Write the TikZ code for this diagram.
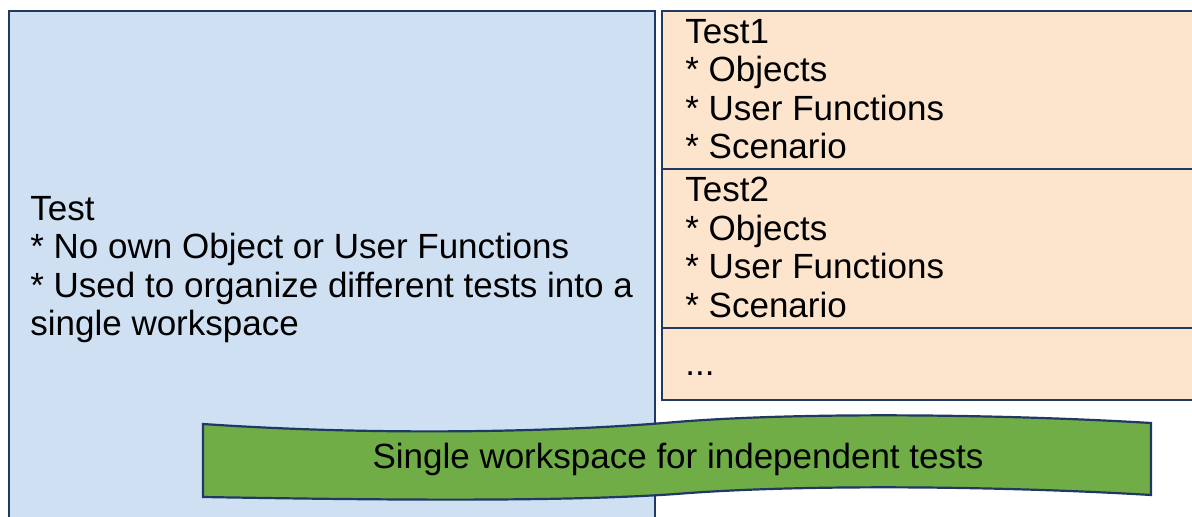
\documentclass[tikz,border=0pt]{standalone}
\usepackage{fontspec}
\setmainfont{Liberation Sans}
\definecolor{navy}{RGB}{31,56,100}
\definecolor{paleblue}{RGB}{207,224,243}
\definecolor{peach}{RGB}{252,228,205}
\definecolor{leafgreen}{RGB}{112,173,71}

\begin{document}
\begin{tikzpicture}[x=.5pt,y=-.5pt,
  frame/.style={draw=navy,line width=1.1pt},
  txt/.style={anchor=north west,inner sep=0pt,align=left,font=\fontsize{17.5}{19.25}\selectfont}]
  \useasboundingbox (0,0) rectangle (1192,517);
  \clip (0,0) rectangle (1192,517);
  \draw[frame,fill=paleblue] (9,11) rectangle (655,540);
  \draw[frame,fill=peach] (662,11) rectangle (1210,169);
  \draw[frame,fill=peach] (662,169) rectangle (1210,328);
  \draw[frame,fill=peach] (662,328) rectangle (1210,400);
  \node[txt] (test) at (30,196) {Test\\* No own Object or User Functions\\* Used to organize different tests into a\\single workspace};
  \node[txt] (test1) at (685,19) {Test1\\* Objects\\* User Functions\\* Scenario};
  \node[txt] (test2) at (685,177) {Test2\\* Objects\\* User Functions\\* Scenario};
  \node[txt,anchor=base west] (more) at (685,376) {...};
  \draw[frame,fill=leafgreen] (203,424) .. controls (380,436) and (560,432) .. (676,422)
    .. controls (800,412) and (1000,414) .. (1151,423) -- (1151,495)
    .. controls (1000,486) and (800,484) .. (676,494)
    .. controls (560,502) and (380,500) .. (203,497) -- cycle;
  \node[txt,anchor=center] (banner) at (678,459) {Single workspace for independent tests};
\end{tikzpicture}
\end{document}
